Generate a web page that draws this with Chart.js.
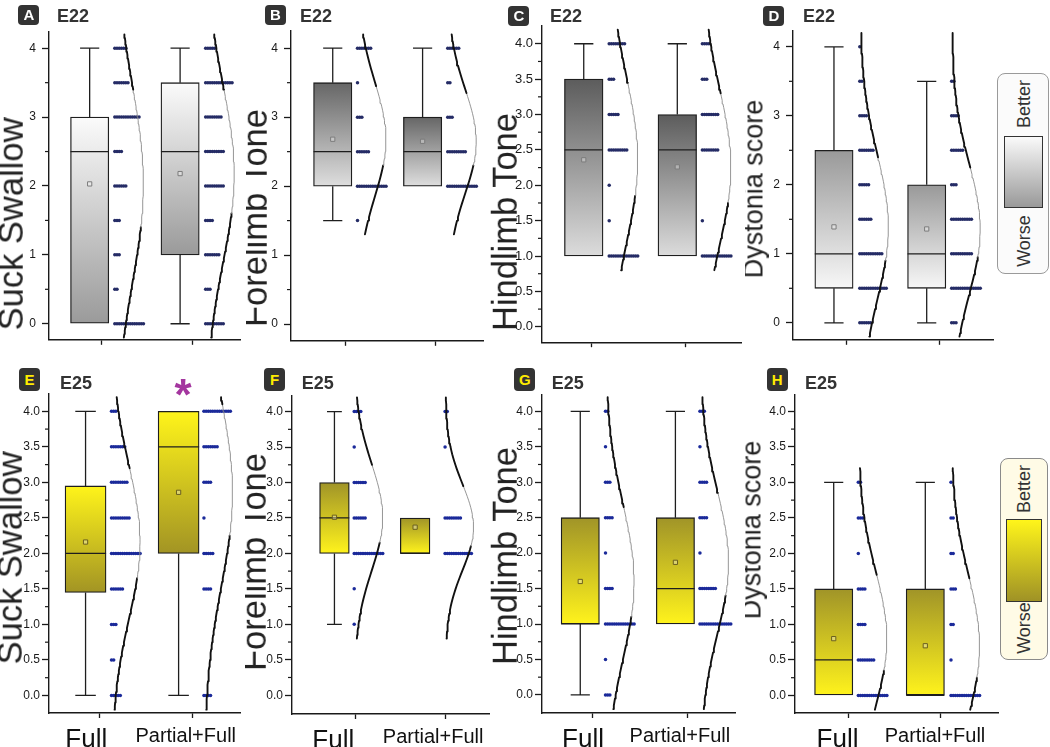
<!DOCTYPE html>
<html>
<head>
<meta charset="utf-8">
<title>Suck swallow, tone and dystonia scores</title>
<script src="https://cdn.jsdelivr.net/npm/chart.js@4.4.1/dist/chart.umd.min.js"></script>
<style>
  html, body { margin: 0; padding: 0; background: #fff; }
  #fig { position: relative; width: 1050px; height: 747px; overflow: hidden; font-family: "Liberation Sans", Arial, sans-serif; }
  .panel { position: absolute; overflow: hidden; }
  .panel canvas, .panel div { position: absolute; }
  .badge { background: #333; color: #fff; font-weight: bold; font-size: 15px; border-radius: 4px; text-align: center; }
  .badge.e25 { color: #ffec00; }
  .age { font-weight: bold; font-size: 18px; line-height: 1; color: #333; white-space: nowrap; }
  .rot { white-space: nowrap; line-height: 1; transform: translate(-50%, -50%) rotate(-90deg); color: #222; }
  .key { border-radius: 8px; box-sizing: border-box; }
  .star { color: #a4369f; font-weight: bold; font-size: 44px; line-height: 1; transform: translateX(-50%); }
</style>
</head>
<body>
<div id="fig"></div>
<script>
// score levels used by every rating, and the two groups
const scoreValues = [0, 0.5, 1, 1.5, 2, 2.5, 3, 3.5, 4];
const groupLabels = ['Full', 'Partial+Full'];
const wholeTicks = [0, 1, 2, 3, 4];
const halfTicks = [0, 0.5, 1, 1.5, 2, 2.5, 3, 3.5, 4];

// box stats: [min, q1, median, q3, max] for Full, Partial+Full
// counts: number of animals at each of scoreValues
const suckE22Box = [[0, 0, 2.5, 3, 4], [0, 1, 2.5, 3.5, 4]];
const suckE22Mean = [2.03, 2.18];
const suckE22Counts = [[14, 2, 3, 3, 6, 4, 12, 7, 6], [9, 3, 7, 4, 9, 9, 8, 13, 5]];

const foreE22Box = [[1.5, 2, 2.5, 3.5, 4], [2, 2, 2.5, 3, 4]];
const foreE22Mean = [2.68, 2.65];
const foreE22Counts = [[0, 0, 0, 1, 14, 6, 3, 1, 7], [0, 0, 0, 0, 14, 9, 3, 2, 6]];

const hindE22Box = [[1, 1, 2.5, 3.5, 4], [1, 1, 2.5, 3, 4]];
const hindE22Mean = [2.36, 2.26];
const hindE22Counts = [[0, 0, 14, 1, 1, 9, 5, 3, 8], [0, 0, 14, 1, 0, 8, 8, 3, 4]];

const dystE22Box = [[0, 0.5, 1, 2.5, 4], [0, 0.5, 1, 2, 3.5]];
const dystE22Mean = [1.39, 1.36];
const dystE22Counts = [[6, 13, 11, 6, 5, 7, 4, 2, 1], [3, 14, 10, 10, 3, 6, 4, 2, 0]];

const suckE25Box = [[0, 1.45, 2, 2.95, 4], [0, 2, 3.5, 4, 4]];
const suckE25Mean = [2.16, 2.86];
const suckE25Counts = [[5, 2, 3, 6, 14, 9, 8, 7, 3], [4, 0, 0, 4, 5, 1, 4, 7, 13]];

const foreE25Box = [[1, 2, 2.5, 3, 4], [2, 2, 2, 2.5, 2.5]];
const foreE25Mean = [2.51, 2.37];
const foreE25Counts = [[0, 0, 1, 1, 14, 6, 6, 1, 4], [0, 0, 0, 0, 13, 8, 0, 1, 2]];

const hindE25Box = [[0, 1, 1, 2.5, 4], [1, 1, 1.5, 2.5, 4]];
const hindE25Mean = [1.60, 1.87];
const hindE25Counts = [[3, 1, 14, 4, 1, 4, 3, 1, 2], [0, 0, 15, 8, 1, 4, 4, 1, 3]];

const dystE25Box = [[0, 0, 0.5, 1.5, 3], [0, 0, 0, 1.5, 3]];
const dystE25Mean = [0.80, 0.70];
const dystE25Counts = [[14, 8, 4, 4, 1, 3, 2, 0, 0], [14, 1, 2, 3, 2, 2, 1, 0, 0]];

const family = '"Liberation Sans", Arial, sans-serif';
const halfMinor = [0.5, 1.5, 2.5, 3.5];
const quarterMinor = [0.25, 0.75, 1.25, 1.75, 2.25, 2.75, 3.25, 3.75];
const grey = ['#252c66', '#7c7c7c'];   // dot colour, mean marker
const gold = ['#1b2a9a', '#6b6020'];

const panels = [
  { letter: 'A', age: 'E22', title: 'Suck Swallow', box: suckE22Box, mean: suckE22Mean, counts: suckE22Counts,
    ticks: wholeTicks, dec: 0, minor: halfMinor, tickSize: 12, padL: 6, grad: ['#fbfbfb', '#9a9a9a'], cols: grey,
    clip: [0, 0, 246, 356], area: [49.3, 24, 240, 345], yPx: [41.7, 328.3], tickPx: [101.7, 192.3],
    boxPx: [89.9, 180.2], boxW: 38.3, dotPx: [115, 205.7], titleSize: 34.5, titlePos: [10.6, 224],
    badge: [18.3, 4.5], agePos: [57, 6.5] },
  { letter: 'B', age: 'E22', title: 'Forelimb Tone', box: foreE22Box, mean: foreE22Mean, counts: foreE22Counts,
    ticks: wholeTicks, dec: 0, minor: halfMinor, tickSize: 12, padL: 6, grad: ['#666666', '#dedede'], cols: grey,
    clip: [246, 0, 490, 356], area: [290.7, 23, 483, 345.7], yPx: [41.7, 328.3], tickPx: [345.7, 435.7],
    boxPx: [332.5, 422.5], boxW: 38.4, dotPx: [357.3, 447.7], titleSize: 34.5, titlePos: [255, 218],
    badge: [265, 4.5], agePos: [300, 6.5] },
  { letter: 'C', age: 'E22', title: 'Hindlimb Tone', box: hindE22Box, mean: hindE22Mean, counts: hindE22Counts,
    ticks: halfTicks, dec: 1, minor: quarterMinor, tickSize: 13, padL: 2, grad: ['#5c5c5c', '#dcdcdc'], cols: grey,
    clip: [490, 0, 745, 356], area: [541.7, 21.7, 741.7, 344], yPx: [40, 328.3], tickPx: [591.7, 685.7],
    boxPx: [583.5, 677.2], boxW: 38.6, dotPx: [609, 702.3], titleSize: 34.5, titlePos: [505, 221.5],
    badge: [508.3, 5.5], agePos: [550, 6.5] },
  { letter: 'D', age: 'E22', title: 'Dystonia score', box: dystE22Box, mean: dystE22Mean, counts: dystE22Counts,
    ticks: wholeTicks, dec: 0, minor: halfMinor, tickSize: 12, padL: 6, grad: ['#999999', '#f7f7f7'], cols: grey,
    clip: [745, 0, 1050, 356], area: [793.3, 22.7, 993.3, 345], yPx: [40, 327.3], tickPx: [846.7, 939.3],
    boxPx: [834.2, 926.8], boxW: 38.3, dotPx: [860, 951.7], titleSize: 27, titlePos: [753.5, 189],
    badge: [763.3, 5.5], agePos: [803, 6.5],
    key: { box: [997.3, 72.7, 51.7, 201.3], bg: '#fbfbfb', edge: '#9a9a9a', inner: [1004.3, 136, 39, 72.3],
           fill: ['#fafafa', '#999999'], better: 104, worse: 241 } },
  { letter: 'E', age: 'E25', title: 'Suck Swallow', box: suckE25Box, mean: suckE25Mean, counts: suckE25Counts,
    ticks: halfTicks, dec: 1, minor: quarterMinor, tickSize: 12, padL: 2, grad: ['#fff41a', '#a29424'], cols: gold,
    clip: [0, 356, 245, 747], area: [49.3, 390, 240, 712.7], yPx: [408.3, 695], tickPx: [100, 192.3],
    boxPx: [85.8, 178.7], boxW: 41, dotPx: [111.7, 204], titleSize: 34.5, titlePos: [10.3, 558],
    badge: [19, 368], agePos: [60, 374], labelPx: [86.5, 185.8], star: [183, 373] },
  { letter: 'F', age: 'E25', title: 'Forelimb Tone', box: foreE25Box, mean: foreE25Mean, counts: foreE25Counts,
    ticks: halfTicks, dec: 1, minor: quarterMinor, tickSize: 12, padL: 2, grad: ['#a09428', '#fff31c'], cols: gold,
    clip: [245, 356, 490, 747], area: [291.7, 391.7, 496.7, 714], yPx: [408.3, 695], tickPx: [355, 445],
    boxPx: [334.2, 415], boxW: 29.7, dotPx: [354, 445], titleSize: 34.5, titlePos: [253.6, 562],
    badge: [264, 368], agePos: [301.7, 374], labelPx: [333, 433] },
  { letter: 'G', age: 'E25', title: 'Hindlimb Tone', box: hindE25Box, mean: hindE25Mean, counts: hindE25Counts,
    ticks: halfTicks, dec: 1, minor: quarterMinor, tickSize: 12, padL: 2, grad: ['#a09428', '#fff31c'], cols: gold,
    clip: [490, 356, 745, 747], area: [542.3, 391, 735, 713.3], yPx: [408.3, 695], tickPx: [592.3, 687.3],
    boxPx: [580.5, 675.5], boxW: 38.3, dotPx: [605.7, 700], titleSize: 34.5, titlePos: [505.3, 555.7],
    badge: [514.3, 368], agePos: [551.7, 374], labelPx: [583.3, 680] },
  { letter: 'H', age: 'E25', title: 'Dystonia score', box: dystE25Box, mean: dystE25Mean, counts: dystE25Counts,
    ticks: halfTicks, dec: 1, minor: quarterMinor, tickSize: 12, padL: 2, grad: ['#a09428', '#fff31c'], cols: gold,
    clip: [745, 356, 1050, 747], area: [795, 391, 998.3, 712.7], yPx: [408.3, 695], tickPx: [848.3, 940.7],
    boxPx: [833.7, 925.3], boxW: 38.3, dotPx: [858.3, 951], titleSize: 27, titlePos: [751.8, 530],
    badge: [766.7, 368], agePos: [805, 374], labelPx: [837.5, 935],
    key: { box: [1000, 457.7, 47.7, 202.3], bg: '#fffbe6', edge: '#8a8a8a', inner: [1006, 519.3, 35.7, 82.4],
           fill: ['#fff51a', '#9f9226'], better: 489, worse: 627.5 } }
];

// short minor ticks on the left axis
const minorTicks = {
  id: 'minorTicks',
  afterDraw(chart, args, opts) {
    const y = chart.scales.y, ctx = chart.ctx;
    ctx.save();
    ctx.strokeStyle = '#1a1a1a';
    ctx.lineWidth = 1.2;
    opts.values.forEach(v => {
      const py = y.getPixelForValue(v);
      ctx.beginPath();
      ctx.moveTo(y.right - 4, py);
      ctx.lineTo(y.right, py);
      ctx.stroke();
    });
    ctx.restore();
  }
};

const fig = document.getElementById('fig');

function addDiv(wrap, p, cls, x, y, text, css) {
  const d = document.createElement('div');
  d.className = cls;
  d.style.left = (x - p.clip[0]) + 'px';
  d.style.top = (y - p.clip[1]) + 'px';
  if (css) Object.assign(d.style, css);
  if (text) d.textContent = text;
  wrap.appendChild(d);
  return d;
}

panels.forEach(p => {
  const bottomRow = p.clip[1] > 0;
  const wrap = document.createElement('div');
  wrap.className = 'panel';
  wrap.style.cssText = `left:${p.clip[0]}px;top:${p.clip[1]}px;width:${p.clip[2] - p.clip[0]}px;height:${p.clip[3] - p.clip[1]}px`;
  fig.appendChild(wrap);

  const [L, T, R, B] = p.area;
  const U = p.tickPx[1] - p.tickPx[0];
  const toX = px => 1 + (px - p.tickPx[0]) / U;
  const yUnit = (p.yPx[1] - p.yPx[0]) / 4;
  const yMin = -(B - p.yPx[1]) / yUnit;
  const yMax = 4 + (p.yPx[0] - T) / yUnit;

  const xh = bottomRow ? 40 : 8;
  const cl = Math.round(L - 40), ct = Math.round(T - 6);
  const cw = Math.round(R + 6) - cl, chh = Math.round(B + xh) - ct;
  const cv = document.createElement('canvas');
  cv.width = cw; cv.height = chh;
  cv.style.left = (cl - p.clip[0]) + 'px';
  cv.style.top = (ct - p.clip[1]) + 'px';
  cv.style.width = cw + 'px'; cv.style.height = chh + 'px';
  wrap.appendChild(cv);

  const cx = p.boxPx.map(toX);
  const half = p.boxW / 2 / U, cap = p.boxW / 4 / U;
  const step = 2.2 / U;

  // whiskers and medians as broken lines
  const whisk = [], meds = [];
  p.box.forEach((b, g) => {
    const c = cx[g];
    if (b[4] > b[3]) whisk.push({x: c, y: b[3]}, {x: c, y: b[4]}, {x: c, y: null}, {x: c - cap, y: b[4]}, {x: c + cap, y: b[4]}, {x: c, y: null});
    if (b[0] < b[1]) whisk.push({x: c, y: b[1]}, {x: c, y: b[0]}, {x: c, y: null}, {x: c - cap, y: b[0]}, {x: c + cap, y: b[0]}, {x: c, y: null});
    meds.push({x: c - half, y: b[2]}, {x: c + half, y: b[2]}, {x: c, y: null});
  });

  // one dot per animal, stacked sideways
  const dots = [];
  p.counts.forEach((row, g) => {
    const x0 = toX(p.dotPx[g]);
    row.forEach((n, k) => {
      for (let j = 0; j < n; j++) dots.push({x: x0 + j * step, y: scoreValues[k]});
    });
  });

  // normal curve fitted to each group
  let lo = 4, hi = 0;
  p.counts.forEach(row => row.forEach((n, k) => {
    if (n > 0) { lo = Math.min(lo, scoreValues[k]); hi = Math.max(hi, scoreValues[k]); }
  }));
  const curves = p.counts.map((row, g) => {
    const n = row.reduce((a, b) => a + b, 0);
    const m = row.reduce((a, c, k) => a + c * scoreValues[k], 0) / n;
    const v = row.reduce((a, c, k) => a + c * (scoreValues[k] - m) ** 2, 0) / (n - 1);
    const sd = Math.sqrt(v), mu = p.mean[g];
    const base = toX(p.dotPx[g] + 0.5), amp = 28 / U;
    const pts = [];
    for (let i = 0; lo - 0.2 + i * 0.05 <= hi + 0.2001; i++) {
      const y = lo - 0.2 + i * 0.05;
      pts.push({x: base + amp * Math.exp(-0.5 * ((y - mu) / sd) ** 2), y: y});
    }
    const thin = s => {
      const z = ((s.p0.parsed.y + s.p1.parsed.y) / 2 - mu) / sd;
      return z > -0.45 && z < 0.95;
    };
    return {
      type: 'scatter', data: pts, showLine: true, pointRadius: 0, borderColor: '#111', borderWidth: 1.9,
      borderCapStyle: 'round', borderJoinStyle: 'round',
      segment: { borderWidth: s => thin(s) ? 0.9 : 1.9, borderColor: s => thin(s) ? '#8a8a8a' : '#111' },
      order: 0
    };
  });

  const boxFill = c => {
    if (c.type !== 'data' || !c.chart.chartArea) return p.grad[0];
    const ys = c.chart.scales.y;
    const [b0, b1] = c.raw.y;
    const g = c.chart.ctx.createLinearGradient(0, ys.getPixelForValue(b1), 0, ys.getPixelForValue(b0));
    g.addColorStop(0, p.grad[0]);
    g.addColorStop(1, p.grad[1]);
    return g;
  };

  const scales = {
    x: {
      type: 'linear', min: toX(L), max: toX(R), weight: 0, offset: false,
      afterFit: s => { s.height = 6; },
      afterBuildTicks: s => { s.ticks = [{value: 1}, {value: 2}]; },
      ticks: { display: false },
      grid: { drawOnChartArea: false, offset: false, tickLength: 5, color: '#1a1a1a', tickWidth: 1.3 },
      border: { color: '#1a1a1a', width: 1.4 }
    },
    y: {
      type: 'linear', min: yMin, max: yMax,
      afterFit: s => { s.width = 40; },
      afterBuildTicks: s => { s.ticks = p.ticks.map(v => ({value: v})); },
      ticks: { callback: v => v.toFixed(p.dec), color: '#1a1a1a', padding: p.padL, font: { family: family, size: p.tickSize } },
      grid: { drawOnChartArea: false, tickLength: 7, color: '#1a1a1a', tickWidth: 1.3 },
      border: { color: '#1a1a1a', width: 1.4 }
    }
  };
  if (bottomRow) {
    scales.x2 = {
      type: 'linear', position: 'bottom', weight: 1, min: toX(L), max: toX(R), offset: false,
      afterFit: s => { s.height = 34; },
      afterBuildTicks: s => { s.ticks = p.labelPx.map(px => ({value: toX(px)})); },
      ticks: {
        callback: (v, i) => groupLabels[i], color: '#111', padding: -3, maxRotation: 0, autoSkip: false,
        font: c => ({ family: family, size: c.index === 0 ? 26 : 20 })
      },
      grid: { display: false, offset: false },
      border: { display: false }
    };
  }

  new Chart(cv, {
    type: 'bar',
    data: {
      datasets: [
        { type: 'bar', data: p.box.map((b, g) => ({x: cx[g], y: [b[1], b[3]]})), barThickness: p.boxW,
          backgroundColor: boxFill, borderColor: '#1e1e1e', borderWidth: 1.3, borderSkipped: false, order: 5 },
        { type: 'scatter', data: whisk, showLine: true, spanGaps: false, pointRadius: 0,
          borderColor: '#1e1e1e', borderWidth: 1.3, order: 4 },
        { type: 'scatter', data: meds, showLine: true, spanGaps: false, pointRadius: 0,
          borderColor: '#1e1e1e', borderWidth: 1.2, order: 2 },
        { type: 'scatter', data: p.mean.map((m, g) => ({x: cx[g], y: m})), pointStyle: 'rect', pointRadius: 3,
          borderColor: p.cols[1], backgroundColor: 'rgba(255,255,255,0.35)', borderWidth: 1, order: 1 },
        { type: 'scatter', data: dots, pointRadius: 1.75, pointStyle: 'circle',
          backgroundColor: p.cols[0], borderWidth: 0, order: 2 },
        ...curves
      ]
    },
    options: {
      responsive: false,
      animation: false,
      devicePixelRatio: 1,
      layout: { padding: { top: T - ct, right: cl + cw - R, left: 0, bottom: 0 } },
      scales: scales,
      plugins: { legend: { display: false }, tooltip: { enabled: false }, minorTicks: { values: p.minor } }
    },
    plugins: [minorTicks]
  });

  // panel furniture
  addDiv(wrap, p, 'badge' + (bottomRow ? ' e25' : ''), p.badge[0], p.badge[1], p.letter,
    { width: '21px', height: bottomRow ? '23px' : '20px', lineHeight: bottomRow ? '23px' : '20px' });
  addDiv(wrap, p, 'age', p.agePos[0], p.agePos[1], p.age);
  addDiv(wrap, p, 'rot', p.titlePos[0], p.titlePos[1], p.title, { fontSize: p.titleSize + 'px' });
  if (p.star) addDiv(wrap, p, 'star', p.star[0], p.star[1], '*');
  if (p.key) {
    const k = p.key;
    addDiv(wrap, p, 'key', k.box[0], k.box[1], '', {
      width: k.box[2] + 'px', height: k.box[3] + 'px', background: k.bg, border: '1px solid ' + k.edge });
    addDiv(wrap, p, 'key', k.inner[0], k.inner[1], '', {
      width: k.inner[2] + 'px', height: k.inner[3] + 'px', borderRadius: '0',
      border: '1px solid #333', background: `linear-gradient(${k.fill[0]}, ${k.fill[1]})` });
    const kx = k.inner[0] + k.inner[2] / 2;
    addDiv(wrap, p, 'rot', kx, k.better, 'Better', { fontSize: '18px', color: '#333' });
    addDiv(wrap, p, 'rot', kx, k.worse, 'Worse', { fontSize: '18px', color: '#333' });
  }
});
</script>
</body>
</html>
